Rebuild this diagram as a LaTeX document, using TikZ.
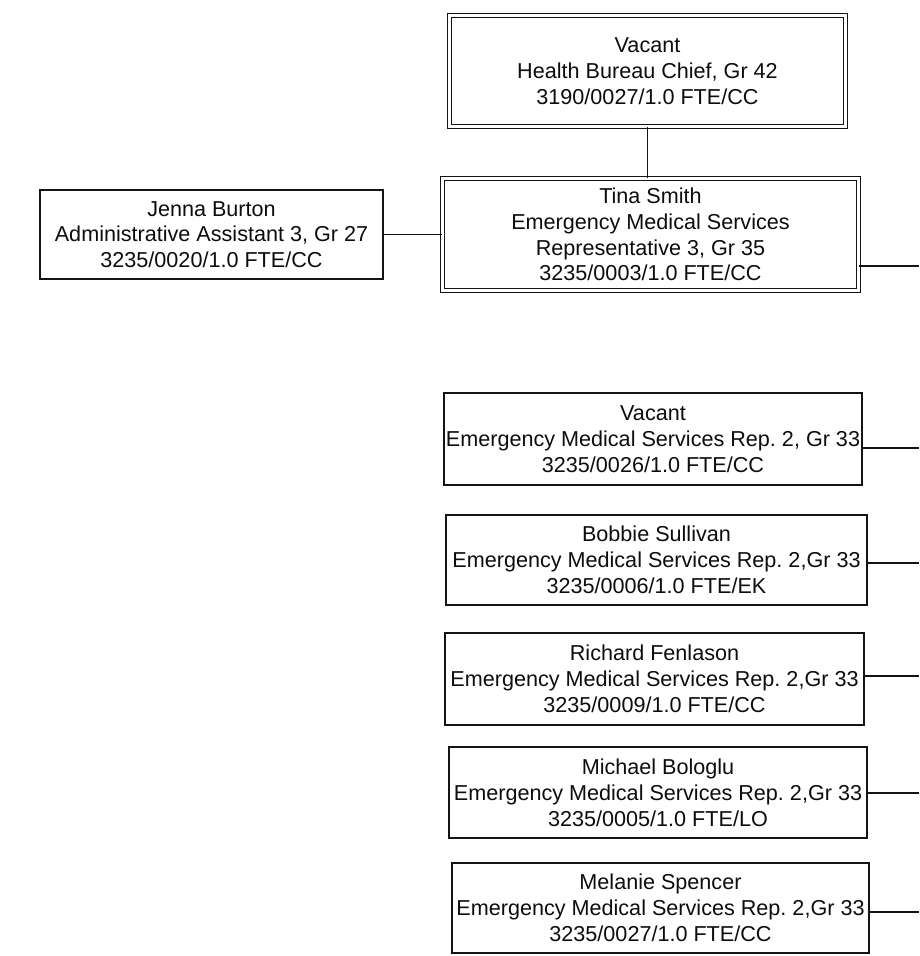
\documentclass[tikz,border=0pt]{standalone}
\usepackage{fontspec}
\setmainfont{Liberation Sans}
\usepackage{tikz}
\usetikzlibrary{calc, positioning}
\frenchspacing
\definecolor{orgline}{gray}{0.08}
\definecolor{orgtext}{gray}{0.05}
\tikzset{
  posbox/.style   = {draw=orgline, line width=1.3pt, fill=white, align=center,
                     inner sep=0pt, text=orgtext,
                     font=\fontsize{21.6}{25.8}\selectfont},
  headbox/.style  = {posbox, line width=1.2pt, double=white, double distance=2.2pt},
  orglink/.style  = {draw=orgline, line width=1.3pt},
}

\begin{document}
\begin{tikzpicture}[x=1pt, y=-1pt, line cap=butt]
  \useasboundingbox (0,0) rectangle (919,956);
  % top of the chart
  \node[headbox, minimum width=396pt, minimum height=111pt] (chief) at (647.5,71)
    {Vacant\\Health Bureau Chief, Gr 42\\3190/0027/1.0 FTE/CC};
  \node[headbox, minimum width=416pt, minimum height=112pt] (tina) at (650.5,234.5)
    {Tina Smith\\Emergency Medical Services\\Representative 3, Gr 35\\3235/0003/1.0 FTE/CC};
  \node[posbox, minimum width=343pt, minimum height=89pt] (jenna) at (211.5,234.5)
    {Jenna Burton\\Administrative Assistant 3, Gr 27\\3235/0020/1.0 FTE/CC};
  % staff column
  \node[posbox, minimum width=418pt, minimum height=92pt] (rep0026) at (653,439)
    {Vacant\\Emergency Medical Services Rep. 2, Gr 33\\3235/0026/1.0 FTE/CC};
  \node[posbox, minimum width=421pt, minimum height=90pt] (sullivan) at (656.5,560)
    {Bobbie Sullivan\\Emergency Medical Services Rep. 2,Gr 33\\3235/0006/1.0 FTE/EK};
  \node[posbox, minimum width=419pt, minimum height=92pt] (fenlason) at (654.5,679)
    {Richard Fenlason\\Emergency Medical Services Rep. 2,Gr 33\\3235/0009/1.0 FTE/CC};
  \node[posbox, minimum width=418pt, minimum height=91pt] (bologlu) at (658,792.5)
    {Michael Bologlu\\Emergency Medical Services Rep. 2,Gr 33\\3235/0005/1.0 FTE/LO};
  \node[posbox, minimum width=417pt, minimum height=90pt] (spencer) at (660.5,908)
    {Melanie Spencer\\Emergency Medical Services Rep. 2,Gr 33\\3235/0027/1.0 FTE/CC};
  % connectors
  \draw[orglink] (chief.south) -- (chief.south |- tina.north);
  \draw[orglink] (jenna.east) -- (tina.west);
  \coordinate (etina) at (919,266);
  \coordinate (e0026) at (919,448);
  \coordinate (e0006) at (919,563);
  \coordinate (e0009) at (919,676);
  \coordinate (e0005) at (919,793);
  \coordinate (e0027) at (919,912);
  \draw[orglink] (tina.east |- etina) -- (etina);
  \draw[orglink] (rep0026.east |- e0026) -- (e0026);
  \draw[orglink] (sullivan.east |- e0006) -- (e0006);
  \draw[orglink] (fenlason.east |- e0009) -- (e0009);
  \draw[orglink] (bologlu.east |- e0005) -- (e0005);
  \draw[orglink] (spencer.east |- e0027) -- (e0027);
\end{tikzpicture}
\end{document}
